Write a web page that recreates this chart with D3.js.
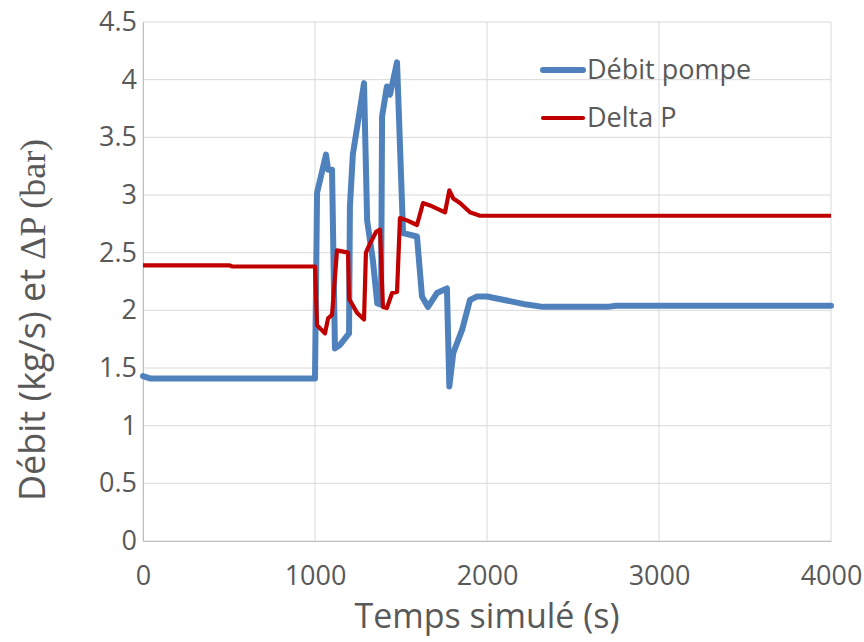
<!DOCTYPE html>
<html>
<head>
<meta charset="utf-8">
<script src="https://cdn.jsdelivr.net/npm/d3@7"></script>
<style>
  body { margin: 0; background: #fff; }
  svg { display: block; }
  .grid line { stroke: #d9d9d9; stroke-width: 1; }
  .tick text { fill: #595959; font-family: "Open Sans", sans-serif; font-size: 27px; }
</style>
</head>
<body>
<svg width="864" height="642"></svg>
<script>
// Débit pompe (kg/s)
var debitT = [0, 40, 1000, 1012, 1064, 1076, 1099, 1116, 1145, 1198, 1203, 1220, 1285, 1303, 1336, 1362, 1384, 1390, 1418, 1436, 1477, 1512, 1593, 1622, 1657, 1709, 1767, 1781, 1804, 1855, 1901, 1942, 2000, 2100, 2230, 2325, 2700, 2750, 4000];
var debitV = [1.43, 1.41, 1.41, 3.02, 3.35, 3.22, 3.22, 1.67, 1.70, 1.80, 2.90, 3.35, 3.97, 2.78, 2.44, 2.06, 2.05, 3.68, 3.94, 3.87, 4.15, 2.67, 2.64, 2.12, 2.03, 2.15, 2.19, 1.34, 1.63, 1.83, 2.09, 2.12, 2.12, 2.09, 2.05, 2.03, 2.03, 2.04, 2.04];

// Delta P (bar)
var deltaT = [0, 500, 520, 1000, 1012, 1058, 1076, 1099, 1128, 1192, 1198, 1244, 1285, 1296, 1320, 1355, 1378, 1395, 1418, 1448, 1477, 1494, 1535, 1593, 1628, 1669, 1756, 1781, 1804, 1843, 1901, 1959, 4000];
var deltaV = [2.39, 2.39, 2.38, 2.38, 1.87, 1.80, 1.93, 1.96, 2.52, 2.50, 2.10, 1.98, 1.92, 2.50, 2.58, 2.68, 2.70, 2.03, 2.02, 2.15, 2.16, 2.80, 2.78, 2.74, 2.93, 2.91, 2.85, 3.04, 2.97, 2.93, 2.85, 2.82, 2.82];

var xTicks = [0, 1000, 2000, 3000, 4000];
var yTicks = [0, 0.5, 1, 1.5, 2, 2.5, 3, 3.5, 4, 4.5];

var svg = d3.select("svg"),
    margin = {top: 22, right: 33, bottom: 101, left: 143},
    width = +svg.attr("width") - margin.left - margin.right,
    height = +svg.attr("height") - margin.top - margin.bottom;

var x = d3.scaleLinear().domain([0, 4000]).range([0, width]),
    y = d3.scaleLinear().domain([0, 4.5]).range([height, 0]);

var g = svg.append("g")
    .attr("transform", "translate(" + margin.left + "," + margin.top + ")");

// grid lines (also serve as the plot frame)
g.append("g").attr("class", "grid")
  .selectAll("line").data(yTicks).enter().append("line")
    .attr("x1", 0).attr("x2", width)
    .attr("y1", function(d) { return y(d); }).attr("y2", function(d) { return y(d); });
g.append("g").attr("class", "grid")
  .selectAll("line").data(xTicks).enter().append("line")
    .attr("y1", 0).attr("y2", height)
    .attr("x1", function(d) { return x(d); }).attr("x2", function(d) { return x(d); });

// axes, labels only
var xAxis = g.append("g")
    .attr("transform", "translate(0," + height + ")")
    .call(d3.axisBottom(x).tickValues(xTicks).tickSize(0).tickPadding(25).tickFormat(d3.format("d")));
var yAxis = g.append("g")
    .call(d3.axisLeft(y).tickValues(yTicks).tickSize(0).tickPadding(6).tickFormat(function(d) { return String(d); }));
xAxis.select(".domain").attr("stroke", "#bfbfbf");
yAxis.select(".domain").attr("stroke", "#bfbfbf");

var line = d3.line()
    .x(function(d) { return x(d[0]); })
    .y(function(d) { return y(d[1]); });

// blue first, red is drawn on top
g.append("path")
    .datum(d3.zip(debitT, debitV))
    .attr("fill", "none")
    .attr("stroke", "#4f81bd")
    .attr("stroke-width", 6)
    .attr("stroke-linejoin", "round")
    .attr("stroke-linecap", "round")
    .attr("d", line);

g.append("path")
    .datum(d3.zip(deltaT, deltaV))
    .attr("fill", "none")
    .attr("stroke", "#c00000")
    .attr("stroke-width", 4.2)
    .attr("stroke-linejoin", "round")
    .attr("d", line);

// legend
var legend = [
  {name: "Débit pompe", color: "#4f81bd", w: 6, y: 70},
  {name: "Delta P", color: "#c00000", w: 4.2, y: 118}
];
var lg = svg.append("g");
lg.selectAll("line").data(legend).enter().append("line")
    .attr("x1", 543).attr("x2", 583)
    .attr("y1", function(d) { return d.y; }).attr("y2", function(d) { return d.y; })
    .attr("stroke", function(d) { return d.color; })
    .attr("stroke-width", function(d) { return d.w; })
    .attr("stroke-linecap", "round");
lg.selectAll("text").data(legend).enter().append("text")
    .attr("x", 587).attr("y", function(d) { return d.y; })
    .attr("dy", "0.35em")
    .attr("fill", "#595959")
    .style("font-family", "'Open Sans', sans-serif")
    .style("font-size", "27px")
    .text(function(d) { return d.name; });

// axis titles
svg.append("text")
    .attr("x", margin.left + width / 2)
    .attr("y", 628)
    .attr("text-anchor", "middle")
    .attr("fill", "#595959")
    .style("font-family", "'Open Sans', sans-serif")
    .style("font-size", "34px")
    .text("Temps simulé (s)");

var yt = svg.append("text")
    .attr("transform", "translate(45,320) rotate(-90)")
    .attr("text-anchor", "middle")
    .attr("fill", "#595959")
    .style("font-size", "36px");
yt.append("tspan").style("font-family", "'Open Sans', sans-serif").text("Débit (kg/s) et ");
yt.append("tspan").style("font-family", "'Liberation Serif', 'DejaVu Serif', serif").text("ΔP (bar)");
</script>
</body>
</html>
